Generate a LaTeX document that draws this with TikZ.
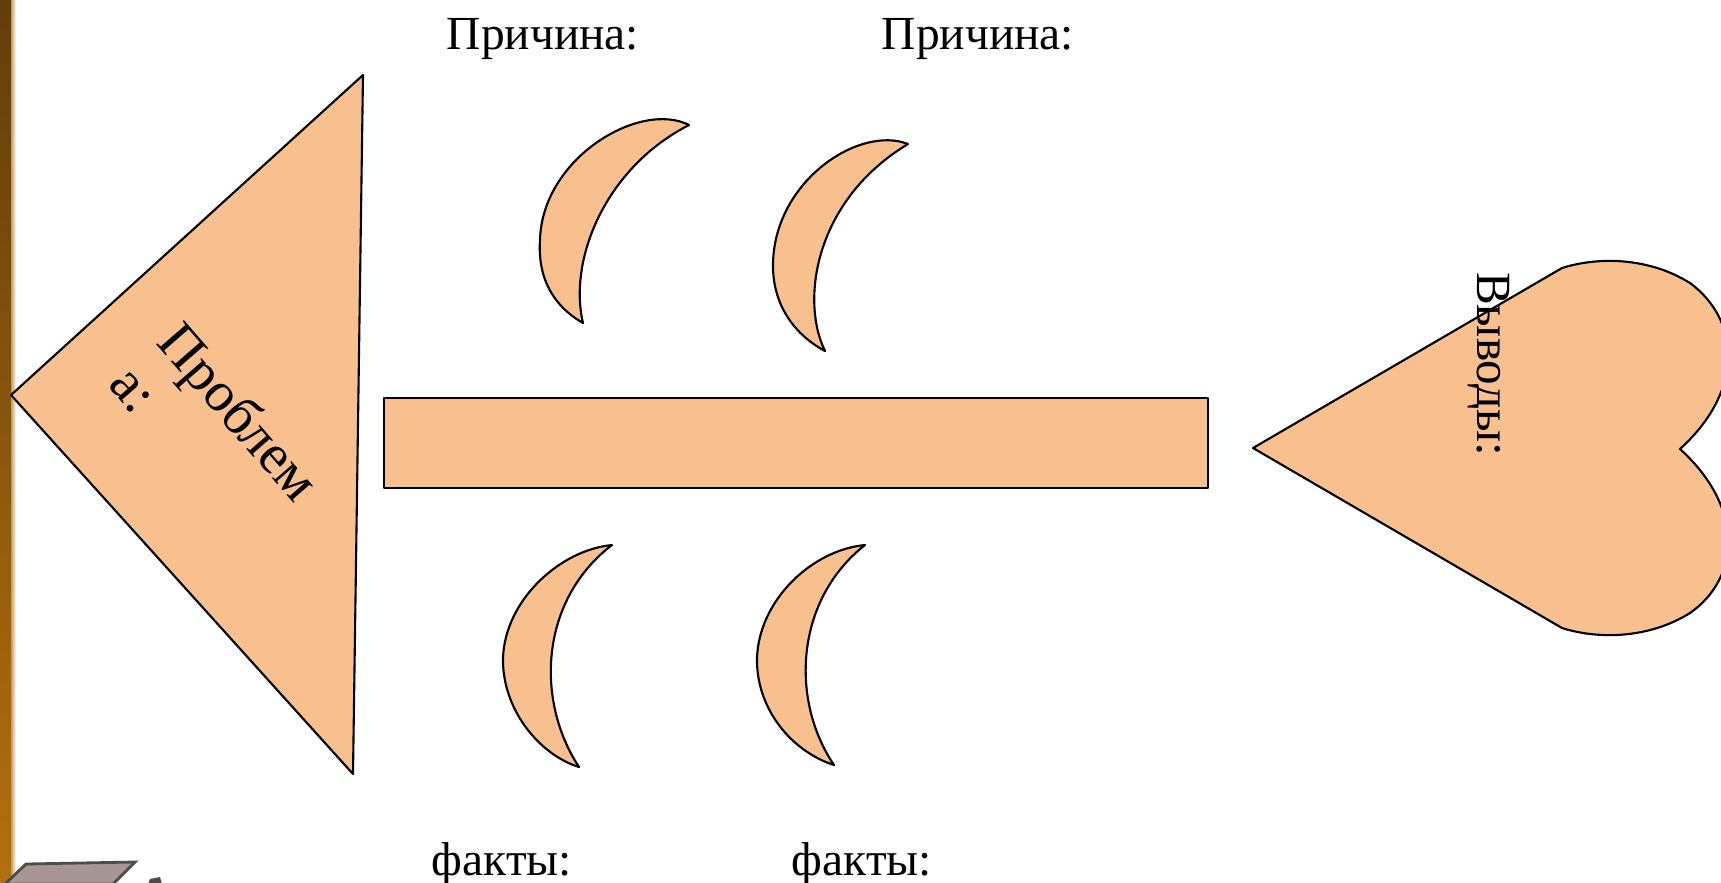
\documentclass[tikz,border=0pt]{standalone}
\usepackage{fontspec}
\setmainfont{Liberation Serif}
\definecolor{peach}{RGB}{248,192,143}
\definecolor{barTop}{RGB}{96,62,12}
\definecolor{barBot}{RGB}{178,112,14}
\definecolor{slab}{RGB}{168,150,146}
\tikzset{
  shapefill/.style={fill=peach, draw=black, line width=0.6pt, line join=round},
  lbl/.style={inner sep=0pt, font=\fontsize{13.5}{16}\selectfont}
}
\begin{document}
\begin{tikzpicture}[x=0.1mm, y=-0.1mm]
\useasboundingbox (0,0) rectangle (1721,882);
\begin{scope}
\clip (0,0) rectangle (1721,882);
% left bar
\shade[top color=barTop, bottom color=barBot] (0,0) rectangle (11,882);
\shade[left color=barBot!70!white, right color=white] (11,0) rectangle (16,882);
% bottom-left slab
\draw[fill=slab, draw=black!70, line width=0.8pt] (26,864) -- (135,862) -- (113,884) -- (5,884) -- cycle;
\fill[black!70] (150,879) -- (160,877) -- (162,884) -- (148,884) -- cycle;
% head triangle
\path[shapefill] (11,395) -- (363,75) -- (353,774) -- cycle;
% spine
\path[shapefill] (384,398) rectangle (1208,488);
% crescents
\path[shapefill] (689,125) .. controls (640,100) and (542,158) .. (540,240) .. controls (537,285) and (560,310) .. (583,323)
  .. controls (568,260) and (605,168) .. (689,125) -- cycle;
\path[shapefill] (908,144) .. controls (860,125) and (775,180) .. (773,263) .. controls (772,305) and (795,335) .. (825,351)
  .. controls (800,300) and (815,200) .. (908,144) -- cycle;
\path[shapefill] (612,545) .. controls (560,550) and (505,600) .. (503,658) .. controls (502,710) and (540,755) .. (579,767)
  .. controls (535,700) and (540,600) .. (612,545) -- cycle;
\path[shapefill] (865,545) .. controls (812,550) and (759,600) .. (757,658) .. controls (756,710) and (793,752) .. (834,765)
  .. controls (790,700) and (795,600) .. (865,545) -- cycle;
% heart tail
\path[shapefill] (1253,448) -- (1562,268) .. controls (1600,256) and (1650,258) .. (1690,283)
  .. controls (1740,320) and (1745,390) .. (1680,449)
  .. controls (1745,508) and (1740,578) .. (1690,613)
  .. controls (1650,638) and (1600,640) .. (1562,628) -- cycle;
\end{scope}
% texts
\node[lbl, anchor=base] (cause1) at (543,49) {Причина:};
\node[lbl, anchor=base] (cause2) at (978,49) {Причина:};
\node[lbl, anchor=base] (fact1) at (502,875) {факты:};
\node[lbl, anchor=base] (fact2) at (862,875) {факты:};
\node[inner sep=0pt, rotate=-49, align=left, font=\fontsize{16}{18}\selectfont] (problem) at (216,432) {Проблем\\а:};
\node[inner sep=0pt, rotate=-90, font=\fontsize{14}{16}\selectfont] (concl) at (1489,364) {Выводы:};
\end{tikzpicture}
\end{document}
